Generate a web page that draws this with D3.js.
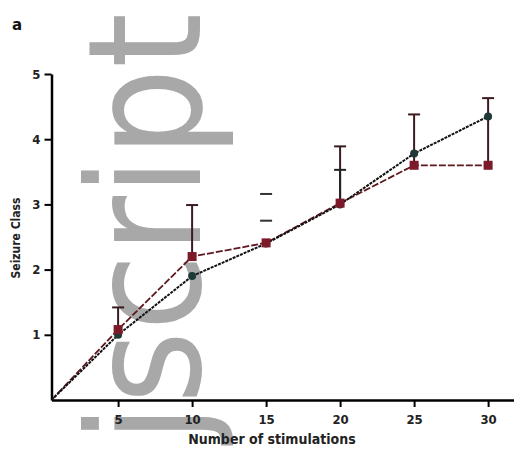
<!DOCTYPE html>
<html>
<head>
<meta charset="utf-8">
<script src="https://cdn.jsdelivr.net/npm/d3@7"></script>
<style>
  body { margin: 0; background: #fff; }
  svg { display: block; }
  .tick text { font-family: "DejaVu Sans Condensed", "DejaVu Sans", sans-serif; font-weight: bold; font-size: 13px; fill: #222; }
</style>
</head>
<body>
<div id="chart"></div>
<script>
// stimulation counts (x) and mean seizure class per group
const stimulations = [0.5, 5, 10, 15, 20, 25, 30];
const blackSeries = [0, 1.0, 1.9, 2.4, 3.0, 3.78, 4.35];
const redSeries = [0, 1.08, 2.2, 2.41, 3.02, 3.6, 3.6];
// upper error bar ends (null = none drawn)
const blackErrTop = [null, null, null, null, 3.53, null, null];
const redErrTop = [null, 1.42, 2.99, null, 3.89, 4.38, 4.63];
// stray caps without stems at x = 15
const looseCapX = [15, 15];
const looseCapY = [3.16, 2.75];
const xTicks = [5, 10, 15, 20, 25, 30];
const yTicks = [1, 2, 3, 4, 5];

const width = 514, height = 465;
const svg = d3.select("#chart").append("svg")
  .attr("width", width)
  .attr("height", height);

const x = d3.scaleLinear().domain([0.5, 31.75]).range([51.5, 514]);
const y = d3.scaleLinear().domain([0, 5]).range([400, 74]);

// watermark
svg.append("text")
  .attr("transform", "translate(200,13) rotate(-90)")
  .attr("text-anchor", "end")
  .attr("font-family", "DejaVu Sans Condensed")
  .attr("font-size", 156)
  .attr("fill", "#a8a8a8")
  .text("jscript");

// axes
svg.append("g")
  .attr("transform", "translate(0,400)")
  .call(d3.axisBottom(x).tickValues(xTicks).tickSize(7).tickSizeOuter(0).tickPadding(8))
  .call(g => g.select(".domain").attr("stroke-width", 2.5))
  .call(g => g.selectAll(".tick line").attr("stroke-width", 2));

svg.append("g")
  .attr("transform", "translate(51.5,0)")
  .call(d3.axisLeft(y).tickValues(yTicks).tickFormat(d3.format("d")).tickSize(7).tickSizeOuter(0).tickPadding(4))
  .call(g => g.select(".domain").attr("stroke-width", 2.5))
  .call(g => g.selectAll(".tick line").attr("stroke-width", 2));

svg.append("text")
  .attr("x", 272).attr("y", 444)
  .attr("text-anchor", "middle")
  .attr("font-family", "DejaVu Sans Condensed, DejaVu Sans")
  .attr("font-weight", "bold")
  .attr("font-size", 14)
  .attr("fill", "#222")
  .text("Number of stimulations");

svg.append("text")
  .attr("transform", "translate(20,238) rotate(-90)")
  .attr("text-anchor", "middle")
  .attr("font-family", "DejaVu Sans Condensed, DejaVu Sans")
  .attr("font-weight", "bold")
  .attr("font-size", 12)
  .attr("fill", "#222")
  .text("Seizure Class");

svg.append("text")
  .attr("x", 12).attr("y", 30)
  .attr("font-family", "DejaVu Sans")
  .attr("font-weight", "bold")
  .attr("font-size", 15)
  .attr("fill", "#111")
  .text("a");

// error bars
function drawErrors(tops, means, color) {
  stimulations.forEach((s, i) => {
    if (tops[i] == null) return;
    svg.append("line")
      .attr("x1", x(s)).attr("x2", x(s))
      .attr("y1", y(means[i])).attr("y2", y(tops[i]))
      .attr("stroke", color).attr("stroke-width", 2);
    svg.append("line")
      .attr("x1", x(s) - 6).attr("x2", x(s) + 6)
      .attr("y1", y(tops[i])).attr("y2", y(tops[i]))
      .attr("stroke", color).attr("stroke-width", 2);
  });
}
drawErrors(redErrTop, redSeries, "#3a1c20");
drawErrors(blackErrTop, blackSeries, "#222");

looseCapX.forEach((s, i) => {
  svg.append("line")
    .attr("x1", x(s) - 6).attr("x2", x(s) + 6)
    .attr("y1", y(looseCapY[i])).attr("y2", y(looseCapY[i]))
    .attr("stroke", "#333").attr("stroke-width", 2);
});

// lines
const line = d3.line().x((d, i) => x(stimulations[i])).y(d => y(d));

svg.append("path")
  .datum(redSeries)
  .attr("d", line)
  .attr("fill", "none")
  .attr("stroke", "#5e1820")
  .attr("stroke-width", 1.8)
  .attr("stroke-dasharray", "7,2");

svg.append("path")
  .datum(blackSeries)
  .attr("d", line)
  .attr("fill", "none")
  .attr("stroke", "#111")
  .attr("stroke-width", 2)
  .attr("stroke-dasharray", "3,1");

// markers
svg.selectAll(".blk").data(blackSeries.slice(1)).join("circle")
  .attr("cx", (d, i) => x(stimulations[i + 1]))
  .attr("cy", d => y(d))
  .attr("r", 4)
  .attr("fill", "#1f3a36");

svg.selectAll(".red").data(redSeries.slice(1)).join("rect")
  .attr("x", (d, i) => x(stimulations[i + 1]) - 4.5)
  .attr("y", d => y(d) - 4.5)
  .attr("width", 9).attr("height", 9)
  .attr("fill", "#7d1a2a");
</script>
</body>
</html>
